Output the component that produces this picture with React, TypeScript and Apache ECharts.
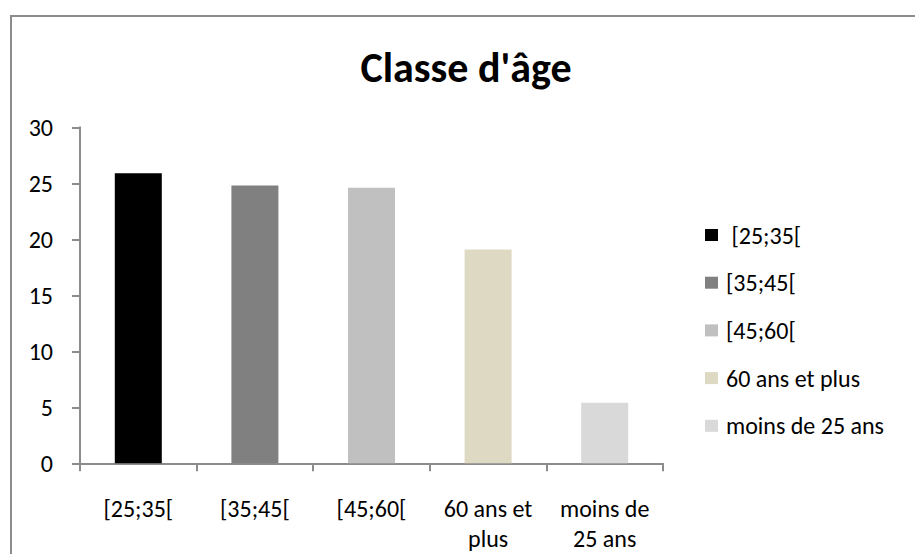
import React, { useEffect, useRef } from "react";
import * as echarts from "echarts";

const categories = ["[25;35[", "[35;45[", "[45;60[", "60 ans et plus", "moins de 25 ans"];
const tickLabels = ["[25;35[", "[35;45[", "[45;60[", "60 ans et\nplus", "moins de\n25 ans"];
const values = [25.9, 24.8, 24.6, 19.1, 5.4];
const colors = ["#000000", "#808080", "#C0C0C0", "#DDD9C3", "#D9D9D9"];
const titleText = "Classe d'âge";

const FONT = "Carlito, Calibri, Lato, sans-serif";

export default function App() {
  const ref = useRef<HTMLDivElement>(null);
  useEffect(() => {
    if (!ref.current) return;
    const chart = echarts.init(ref.current, undefined, { renderer: "svg" });
    const series = categories.map((name, i) => ({
      name,
      type: "bar",
      stack: "all",
      barWidth: 47,
      itemStyle: { color: colors[i] },
      data: categories.map((_, j) => (j === i ? values[i] : "-")),
    }));
    chart.setOption({
      animation: false,
      backgroundColor: "#ffffff",
      textStyle: { fontFamily: FONT },
      graphic: [
        {
          type: "rect",
          shape: { x: 11, y: 16, width: 1000, height: 1000 },
          style: { fill: "none", stroke: "#8c8c8c", lineWidth: 2 },
          silent: true,
        },
        {
          type: "text",
          x: 466,
          y: 67,
          style: {
            text: titleText,
            fontFamily: FONT,
            fontWeight: "bold",
            fontSize: 42,
            fill: "#000000",
            textAlign: "center",
            textVerticalAlign: "middle",
          },
        },
      ],
      legend: {
        orient: "vertical",
        left: 705,
        top: 223,
        padding: 0,
        itemWidth: 13,
        itemHeight: 12,
        itemGap: 23.7,
        icon: "rect",
        selectedMode: false,
        formatter: (name: string) => (name === categories[0] ? "\u00a0" + name : name),
        textStyle: { fontFamily: FONT, fontSize: 24, color: "#000000", lineHeight: 24, padding: [0, 0, 0, 3] },
        data: categories,
      },
      grid: { left: 80, right: 252, top: 127.3, bottom: 90.7, containLabel: false },
      xAxis: {
        type: "category",
        data: categories,
        axisLine: { lineStyle: { color: "#8c8c8c", width: 2 } },
        axisTick: { show: true, length: 8, alignWithLabel: false, lineStyle: { color: "#8c8c8c", width: 2 } },
        axisLabel: {
          interval: 0,
          margin: 30,
          fontFamily: FONT,
          fontSize: 24,
          lineHeight: 30,
          color: "#000000",
          formatter: (_v: string, i: number) => tickLabels[i],
        },
      },
      yAxis: {
        type: "value",
        min: 0,
        max: 30,
        interval: 5,
        splitLine: { show: false },
        axisLine: { show: true, lineStyle: { color: "#8c8c8c", width: 2 } },
        axisTick: { show: true, length: 8, lineStyle: { color: "#8c8c8c", width: 2 } },
        axisLabel: { margin: 27, fontFamily: FONT, fontSize: 24, color: "#000000" },
      },
      series,
    });
    return () => chart.dispose();
  }, []);
  return <div ref={ref} style={{ position: "absolute", left: 0, top: 0, width: 915, height: 554 }} />;
}
